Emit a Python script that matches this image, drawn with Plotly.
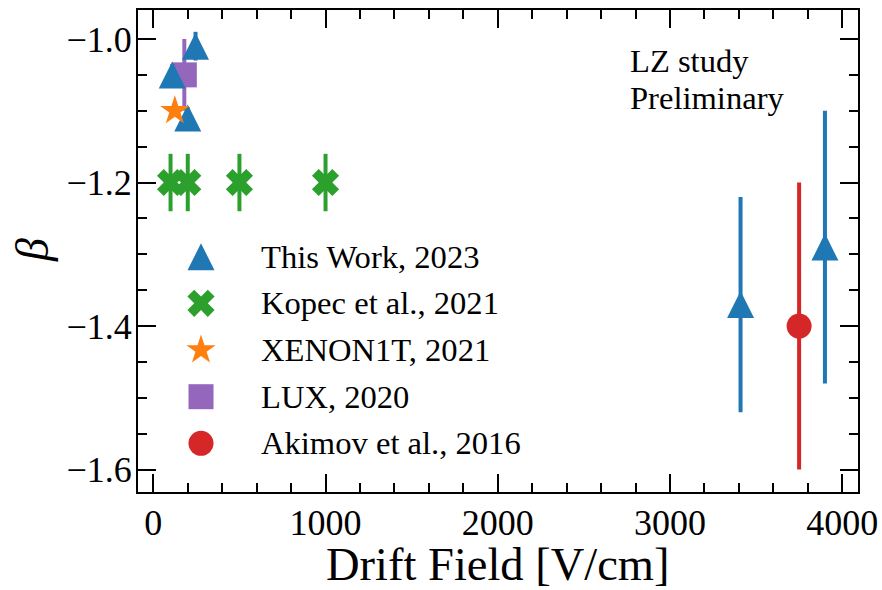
import plotly.graph_objects as go

# ---------------- data ----------------
this_x = [110, 245, 200, 3410, 3900]
this_y = [-1.05, -1.01, -1.11, -1.37, -1.29]
this_err = [0.015, 0.02, 0.015, 0.15, 0.19]

kopec_x = [100, 200, 500, 1000]
kopec_y = [-1.2, -1.2, -1.2, -1.2]
kopec_err = [0.04, 0.04, 0.04, 0.04]

xenon_x = [125]
xenon_y = [-1.10]

lux_x = [180]
lux_y = [-1.05]
lux_err = [0.05]

akimov_x = [3750]
akimov_y = [-1.40]
akimov_err = [0.20]

legend_labels = ["This Work, 2023", "Kopec et al., 2021", "XENON1T, 2021",
                 "LUX, 2020", "Akimov et al., 2016"]

x_ticks = [0, 1000, 2000, 3000, 4000]
y_ticks = [-1.0, -1.2, -1.4, -1.6]

# ---------------- style ----------------
BLUE, GREEN, ORANGE, PURPLE, RED = "#1f77b4", "#2ca02c", "#ff7f0e", "#9467bd", "#d62728"
FONT = "Liberation Serif"
W, H = 882, 590
ML, MR, MT, MB = 138, 24, 10, 98
PW, PH = W - ML - MR, H - MT - MB
TXT = 32.6

TRI = 27  # triangle size (matplotlib-like proportions)


def tri_marker(size):
    return dict(symbol="arrow-down", angle=180, standoff=size / 2, size=size, color=BLUE)


def ebar(arr, color):
    return dict(type="data", array=arr, visible=True, thickness=4, width=0, color=color)


X_MK = dict(symbol="x", size=24, color=GREEN)
STAR_MK = dict(symbol="star", size=22, color=ORANGE)
SQ_MK = dict(symbol="square", size=25, color=PURPLE)
CIRC_MK = dict(symbol="circle", size=25, color=RED)

fig = go.Figure()

fig.add_trace(go.Scatter(x=kopec_x, y=kopec_y, mode="markers", marker=X_MK,
                         error_y=ebar(kopec_err, GREEN), showlegend=False))
fig.add_trace(go.Scatter(x=lux_x, y=lux_y, mode="markers", marker=SQ_MK,
                         error_y=ebar(lux_err, PURPLE), showlegend=False))
fig.add_trace(go.Scatter(x=akimov_x, y=akimov_y, mode="markers", marker=CIRC_MK,
                         error_y=ebar(akimov_err, RED), showlegend=False))
fig.add_trace(go.Scatter(x=this_x, y=this_y, mode="markers", marker=tri_marker(TRI),
                         error_y=ebar(this_err, BLUE), showlegend=False))
fig.add_trace(go.Scatter(x=xenon_x, y=xenon_y, mode="markers", marker=STAR_MK,
                         showlegend=False))

# ---------------- manual legend (overlay axes in plot fraction) ----------------
leg_px_x = 201
leg_px_y = [256.7, 303.3, 350.0, 396.7, 443.3]
leg_fx = (leg_px_x - ML) / PW
leg_fy = [(MT + PH - py) / PH for py in leg_px_y]
leg_markers = [tri_marker(TRI), X_MK, STAR_MK, SQ_MK, CIRC_MK]
for fy, mk in zip(leg_fy, leg_markers):
    fig.add_trace(go.Scatter(x=[leg_fx], y=[fy], xaxis="x2", yaxis="y2", mode="markers",
                             marker=mk, showlegend=False, hoverinfo="skip"))

text_fx = (258.7 - ML) / PW
for fy, lab in zip(leg_fy, legend_labels):
    fig.add_annotation(x=text_fx, y=fy, xref="paper", yref="paper", text=lab,
                       showarrow=False, xanchor="left", yanchor="middle",
                       font=dict(family=FONT, size=TXT, color="black"))

# LZ study text
for txt, py in [("LZ study", 61.0), ("Preliminary", 97.5)]:
    fig.add_annotation(x=(627.7 - ML) / PW, y=(MT + PH - py) / PH, xref="paper", yref="paper",
                       text=txt, showarrow=False, xanchor="left", yanchor="middle",
                       font=dict(family=FONT, size=TXT, color="black"))

# axis titles
fig.add_annotation(x=0.5, y=(MT + PH - 564) / PH, xref="paper", yref="paper",
                   text="Drift Field [V/cm]", showarrow=False, xanchor="center", yanchor="middle",
                   font=dict(family=FONT, size=46.5, color="black"))
fig.add_annotation(x=(32 - ML) / PW, y=(MT + PH - 250) / PH, xref="paper", yref="paper",
                   text="<i>β</i>", showarrow=False, xanchor="center", yanchor="middle",
                   textangle=-90, font=dict(family=FONT, size=46, color="black"))

axis_common = dict(
    showline=True, linecolor="black", linewidth=2, mirror="allticks",
    ticks="inside", ticklen=18, tickwidth=2, tickcolor="black",
    showgrid=False, zeroline=False, automargin=False,
    tickfont=dict(family=FONT, size=36, color="black"),
)

fig.update_layout(
    width=W, height=H,
    margin=dict(l=ML, r=MR, t=MT, b=MB, autoexpand=False),
    paper_bgcolor="white", plot_bgcolor="white",
    showlegend=False,
    xaxis=dict(range=[-89, 4092], tickvals=x_ticks, ticktext=[str(v) for v in x_ticks],
               ticklabelstandoff=-2,
               minor=dict(dtick=200, tick0=0, ticks="inside", ticklen=9, tickwidth=2,
                          tickcolor="black", showgrid=False),
               **axis_common),
    yaxis=dict(range=[-1.6312, -0.9596], tickvals=y_ticks,
               ticktext=["\u2212%.1f" % abs(v) for v in y_ticks],
               ticklabelstandoff=-3,
               minor=dict(dtick=0.05, tick0=-1.0, ticks="inside", ticklen=9, tickwidth=2,
                          tickcolor="black", showgrid=False),
               **axis_common),
    xaxis2=dict(range=[0, 1], overlaying="x", visible=False, fixedrange=True),
    yaxis2=dict(range=[0, 1], overlaying="y", visible=False, fixedrange=True),
)

fig.write_html("out.html")
